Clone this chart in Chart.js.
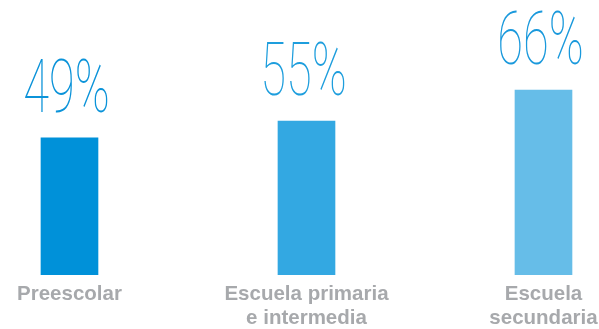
<!DOCTYPE html>
<html>
<head>
<meta charset="utf-8">
<script src="https://cdn.jsdelivr.net/npm/chart.js@4"></script>
<style>
  body { margin: 0; background: #fff; }
</style>
</head>
<body>
<canvas id="myChart" width="599" height="329"></canvas>
<script>
const categories = [
    ['Preescolar'],
    ['Escuela primaria', 'e intermedia'],
    ['Escuela', 'secundaria']
];
const values = [49, 55, 66];
const barColors = ['#0091d9', '#33a8e2', '#66bde8'];
const textColors = ['#0b93d9', '#1e9edd', '#1a99dc'];

// big thin "49%" labels above each bar
const valueLabels = {
    id: 'valueLabels',
    afterDatasetsDraw(chart) {
        const ctx = chart.ctx;
        const meta = chart.getDatasetMeta(0);
        meta.data.forEach((bar, i) => {
            ctx.save();
            ctx.translate(bar.x - 3, bar.y - 26);
            ctx.scale(0.636, 1);
            ctx.font = '100 74px Roboto, "DejaVu Sans"';
            ctx.fillStyle = textColors[i];
            ctx.textAlign = 'center';
            ctx.textBaseline = 'alphabetic';
            ctx.fillText(values[i] + '%', 0, 0);
            ctx.restore();
        });
    }
};

const data = {
    datasets: [{
        data: values.map((v, i) => ({ x: i, y: v })),
        backgroundColor: barColors,
        barThickness: 57
    }]
};

const config = {
    type: 'bar',
    data: data,
    options: {
        responsive: false,
        animation: false,
        layout: { padding: { top: 23, bottom: 0, left: 0, right: 0 } },
        plugins: {
            legend: { display: false },
            tooltip: { enabled: false }
        },
        scales: {
            x: {
                type: 'linear',
                bounds: 'data',
                offset: false,
                min: -0.2932,
                max: 2.2342,
                grid: { display: false, drawTicks: false, offset: false },
                border: { display: false },
                afterBuildTicks: (axis) => {
                    axis.ticks = categories.map((c, i) => ({ value: i }));
                },
                afterFit: (axis) => {
                    axis.height = 54;
                    axis.paddingLeft = 0;
                    axis.paddingRight = 0;
                },
                ticks: {
                    autoSkip: false,
                    maxRotation: 0,
                    padding: 7,
                    color: '#a7a9ac',
                    font: { family: '"Liberation Sans", Arial', size: 20.5, weight: 'bold', lineHeight: 1.17 },
                    callback: (v) => categories[v] || ''
                }
            },
            y: {
                min: 0,
                max: 90,
                display: false
            }
        }
    },
    plugins: [valueLabels]
};

const myChart = new Chart(
    document.getElementById('myChart'),
    config
);
</script>
</body>
</html>
